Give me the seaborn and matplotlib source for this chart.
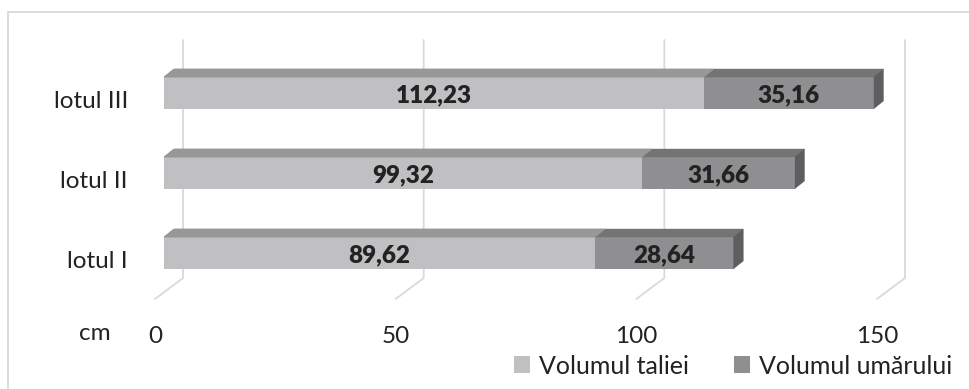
import matplotlib
matplotlib.use("Agg")
import matplotlib.pyplot as plt
import pandas as pd
import seaborn as sns
from matplotlib.lines import Line2D
from matplotlib.patches import Polygon, Rectangle
from matplotlib.transforms import IdentityTransform, ScaledTranslation

# --- data -------------------------------------------------------------
loturi = ["lotul III", "lotul II", "lotul I"]
volumul_taliei = [112.23, 99.32, 89.62]
volumul_umarului = [35.16, 31.66, 28.64]
x_ticks = [0, 50, 100, 150]
legend_labels = ["Volumul taliei", "Volumul umărului"]
axis_unit = "cm"

# --- style --------------------------------------------------------------
sns.set_theme(style="white")
plt.rcParams["font.family"] = ["Lato", "DejaVu Sans"]

C_TAL_FRONT, C_TAL_TOP = "#c0c0c3", "#98989a"
C_UM_FRONT, C_UM_TOP, C_UM_SIDE = "#8f8f91", "#747476", "#5e5e60"
C_GRID = "#d9d9d9"
C_TEXT = "#222222"
FS = 17.5

W, H, DPI = 970, 389, 100
fig = plt.figure(figsize=(W / DPI, H / DPI), dpi=DPI)
fig.patch.set_facecolor("white")

# the axes span the bar plane: x 0..150 and the rows between the gridline ends
ax = fig.add_axes([164 / W, 90 / H, 722 / W, 259 / H])
ax.set_facecolor("none")

df = pd.DataFrame({"lot": loturi, "taliei": volumul_taliei,
                   "umarului": volumul_umarului})
df["total"] = df["taliei"] + df["umarului"]

# stacked bars: full length in the darker colour, then the first part on top
sns.barplot(data=df, x="total", y="lot", order=loturi, color=C_UM_FRONT,
            saturation=1, width=0.4, errorbar=None, ax=ax,
            label=legend_labels[1], zorder=3, linewidth=0)
sns.barplot(data=df, x="taliei", y="lot", order=loturi, color=C_TAL_FRONT,
            saturation=1, width=0.4, errorbar=None, ax=ax,
            label=legend_labels[0], zorder=4, linewidth=0)
if ax.get_legend() is not None:
    ax.get_legend().remove()

ax.set_xlim(0, 150)
ax.set_ylim(2.575, -0.6625)
ax.set_xlabel("")
ax.set_ylabel("")
for s in ax.spines.values():
    s.set_visible(False)
ax.grid(False)

# depth offsets (pixels) of the oblique projection
BACK_DX, FRONT_DX = 19, -9
FRONT_DY = 21
BAR_DX, BAR_DY = 10, 8

ax.set_xticks(x_ticks)
ax.set_xticklabels([str(v) for v in x_ticks])
ax.tick_params(axis="x", length=0, pad=19.5, labelsize=FS, labelcolor=C_TEXT)
ax.tick_params(axis="y", length=0, pad=26, labelsize=FS, labelcolor=C_TEXT)
for lbl in ax.get_xticklabels():
    lbl.set_transform(lbl.get_transform()
                      + ScaledTranslation(FRONT_DX / DPI, 0, fig.dpi_scale_trans))
for lbl in ax.get_yticklabels():
    lbl.set_transform(lbl.get_transform()
                      + ScaledTranslation(0, -7 / DPI, fig.dpi_scale_trans))

ident = IdentityTransform()
y_top_px = ax.transAxes.transform((0, 1))[1]
y_bot_px = ax.transAxes.transform((0, 0))[1]

# back-wall gridlines with their floor segments
for v in x_ticks:
    px = ax.transData.transform((v, 0))[0]
    fig.add_artist(Line2D([px + BACK_DX, px + BACK_DX, px + FRONT_DX],
                          [y_top_px, y_bot_px + FRONT_DY, y_bot_px],
                          transform=ident, color=C_GRID, lw=1.3, zorder=0))


def face(pts, color, z):
    fig.add_artist(Polygon(pts, closed=True, transform=ident, facecolor=color,
                           edgecolor=color, lw=0.3, zorder=z))


# top and side faces of the bars
for i, (t, u) in enumerate(zip(volumul_taliei, volumul_umarului)):
    x0, yb = ax.transData.transform((0, i + 0.2))
    xt, yt = ax.transData.transform((t, i - 0.2))
    xe, _ = ax.transData.transform((t + u, i - 0.2))
    face([(x0, yt), (xe, yt), (xe + BAR_DX, yt + BAR_DY), (x0 + BAR_DX, yt + BAR_DY)],
         C_UM_TOP, 5)
    face([(x0, yt), (xt, yt), (xt + BAR_DX, yt + BAR_DY), (x0 + BAR_DX, yt + BAR_DY)],
         C_TAL_TOP, 6)
    face([(xe, yb), (xe, yt), (xe + BAR_DX, yt + BAR_DY), (xe + BAR_DX, yb + BAR_DY)],
         C_UM_SIDE, 6)
    for xc, val in ((t / 2, t), (t + u / 2, u)):
        ax.text(xc, i + 0.03, f"{val:.2f}".replace(".", ","), ha="center",
                va="center", fontsize=FS, fontweight="heavy", color=C_TEXT,
                zorder=7)

fig.text(95 / W, 1 - 333 / H, axis_unit, ha="center", va="center",
         fontsize=FS, color=C_TEXT)

# chart area border
fig.add_artist(Rectangle((8, -20), 1200, H - 12 + 20, transform=ident,
                         fill=False, edgecolor=C_GRID, lw=1.3, zorder=0))

handles, labels = ax.get_legend_handles_labels()
order = [labels.index(lbl) for lbl in legend_labels]
fig.legend([handles[k] for k in order], [labels[k] for k in order],
           loc="center", bbox_to_anchor=(733 / W, 1 - 366 / H), ncol=2,
           frameon=False, fontsize=18, handlelength=0.65, handleheight=0.65,
           handletextpad=0.35, columnspacing=1.8, labelcolor=C_TEXT)

fig.savefig("out.png", dpi=DPI)
